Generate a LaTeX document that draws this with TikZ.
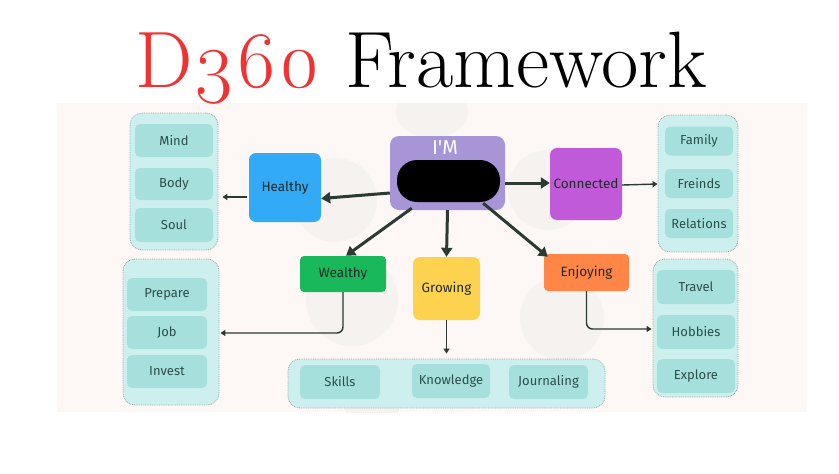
\documentclass[tikz,border=0pt]{standalone}
\usepackage{fontspec}
\newfontfamily\bodyfont{Fira Sans}
\newfontfamily\titlefont[Numbers=OldStyle]{Latin Modern Roman}
\usetikzlibrary{arrows.meta}
\definecolor{titlered}{HTML}{F03232}
\definecolor{panelbg}{HTML}{FDF8F5}
\definecolor{grpfill}{HTML}{CDF0EE}
\definecolor{grpline}{HTML}{9AA6A5}
\definecolor{itemfill}{HTML}{A6E0DC}
\definecolor{itemtext}{HTML}{2E4D4A}
\definecolor{arrowcol}{HTML}{2B3A33}
\definecolor{imfill}{HTML}{A895D8}
\definecolor{healthyfill}{HTML}{33AAF5}
\definecolor{connfill}{HTML}{C05AD9}
\definecolor{wealthfill}{HTML}{19B85A}
\definecolor{growfill}{HTML}{FDD24F}
\definecolor{enjoyfill}{HTML}{FF8646}
\definecolor{ghost}{HTML}{F5F2F0}
\definecolor{boxtext}{HTML}{1E2A28}
\tikzset{
  grp/.style={draw=grpline, densely dotted, line width=0.8pt, fill=grpfill, rounded corners=12pt, inner sep=0pt},
  item/.style={fill=itemfill, rounded corners=5pt, inner sep=0pt, text=itemtext, font=\bodyfont\fontsize{13}{15}\selectfont},
  catbox/.style={rounded corners=7pt, inner sep=0pt, text=boxtext, font=\bodyfont\fontsize{13.5}{15}\selectfont},
  bigarrow/.style={draw=arrowcol, line width=3pt, -{Triangle[length=9pt,width=11pt]}},
  smallarrow/.style={draw=arrowcol, line width=1.4pt, -{Triangle[length=5pt,width=6pt]}},
}
\begin{document}
\begin{tikzpicture}[x=1pt,y=-1pt]
\useasboundingbox (0,0) rectangle (839,474);
\fill[white] (0,0) rectangle (839,474);
% panel
\fill[panelbg] (57,103) rectangle (807,412);
% faint background shapes
\begin{scope}
\clip (57,103) rectangle (807,412);
\fill[ghost] (335,200) circle (42);
\fill[ghost] (548,190) circle (40);
\fill[ghost] (352,300) circle (46);
\fill[ghost] (562,318) circle (42);
\fill[ghost] (432,112) ellipse (36 and 26);
\fill[ghost] (372,402) circle (28);
\end{scope}
% title
\node[anchor=base, inner sep=0pt] (title) at (421,87)
  {\scalebox{1.015}[1]{\titlefont\fontsize{80}{84}\selectfont\textcolor{titlered}{D360} Framework}};
% left top group
\node[grp, minimum width=88pt, minimum height=137pt] (LG1) at (174,181.5) {};
\node[item, minimum width=78pt, minimum height=33pt] (mind) at (174,140.5) {Mind};
\node[item, minimum width=78pt, minimum height=32pt] (body) at (174,184) {Body};
\node[item, minimum width=78pt, minimum height=34pt] (soul) at (174,225) {Soul};
% left bottom group
\node[grp, minimum width=96pt, minimum height=146pt] (LG2) at (171,332) {};
\node[item, minimum width=80pt, minimum height=33pt] (prepare) at (167,294.5) {Prepare};
\node[item, minimum width=80pt, minimum height=33pt] (job) at (167,332.5) {Job};
\node[item, minimum width=80pt, minimum height=33pt] (invest) at (167,371.5) {Invest};
% right top group
\node[grp, minimum width=80pt, minimum height=137pt] (RG1) at (698,183.5) {};
\node[item, minimum width=68pt, minimum height=29pt] (family) at (699,141) {Family};
\node[item, minimum width=68pt, minimum height=29pt] (freinds) at (699,183.5) {Freinds};
\node[item, minimum width=68pt, minimum height=29pt] (relations) at (699,223.5) {Relations};
% right bottom group
\node[grp, minimum width=85pt, minimum height=138pt] (RG2) at (695.5,328) {};
\node[item, minimum width=78pt, minimum height=34pt] (travel) at (696,287) {Travel};
\node[item, minimum width=78pt, minimum height=34pt] (hobbies) at (696,332) {Hobbies};
\node[item, minimum width=78pt, minimum height=34pt] (explore) at (696,376) {Explore};
% bottom group
\node[grp, minimum width=317pt, minimum height=49pt] (BG) at (446.5,383.5) {};
\node[item, minimum width=80pt, minimum height=34pt] (skills) at (340,382) {Skills};
\node[item, minimum width=78pt, minimum height=34pt] (knowledge) at (451,381) {Knowledge};
\node[item, minimum width=79pt, minimum height=34pt] (journaling) at (548.5,382) {Journaling};
% central
\node[catbox, fill=imfill, rounded corners=9pt, minimum width=115pt, minimum height=74pt] (IM) at (447.5,173) {};
\node[text=white, font=\bodyfont\fontsize{20}{22}\selectfont, inner sep=0pt, anchor=center] (imlabel) at (445,148) {I'M};
\node[fill=black, rounded corners=20pt, minimum width=103pt, minimum height=42pt, inner sep=0pt] (pill) at (448.5,181) {};
% categories
\node[catbox, fill=healthyfill, minimum width=72pt, minimum height=69pt] (healthy) at (285,187.5) {Healthy};
\node[catbox, fill=connfill, minimum width=72pt, minimum height=72pt] (connected) at (586,184) {Connected};
\node[catbox, fill=wealthfill, rounded corners=4pt, minimum width=86pt, minimum height=36pt] (wealthy) at (343,274) {Wealthy};
\node[catbox, fill=growfill, minimum width=67pt, minimum height=63pt] (growing) at (446.5,288.5) {Growing};
\node[catbox, fill=enjoyfill, rounded corners=4pt, minimum width=85pt, minimum height=37pt] (enjoying) at (586.5,272.5) {Enjoying};
% big arrows
\draw[bigarrow] ([yshift=-20pt]IM.west) -- ([yshift=-11pt]healthy.east);
\draw[bigarrow] ([xshift=22pt,yshift=2pt]IM.south west) -- ([xshift=3pt]wealthy.north);
\draw[bigarrow] (IM.south) -- (growing.north);
\draw[bigarrow] ([xshift=-22pt,yshift=7pt]IM.south east) -- ([xshift=4pt,yshift=-3pt]enjoying.north west);
\draw[bigarrow] ([yshift=-10pt]IM.east) -- (connected.west |- 0,183);
% small arrows
\coordinate (hA) at ([xshift=-2pt,yshift=-9.5pt]healthy.west);
\draw[smallarrow, shorten >=4pt] (hA) -- (LG1.east |- hA);
\draw[smallarrow] ([yshift=-1pt]connected.east) -- (RG1.west |- 0,184);
\draw[smallarrow, rounded corners=6pt] (wealthy.south) |- ([xshift=1pt,yshift=-1pt]LG2.east);
\draw[smallarrow, shorten >=5pt] (growing.south) -- (BG.north);
\draw[smallarrow, rounded corners=6pt] (enjoying.south) |- ([xshift=-1pt,yshift=-1pt]RG2.west);
\end{tikzpicture}
\end{document}
